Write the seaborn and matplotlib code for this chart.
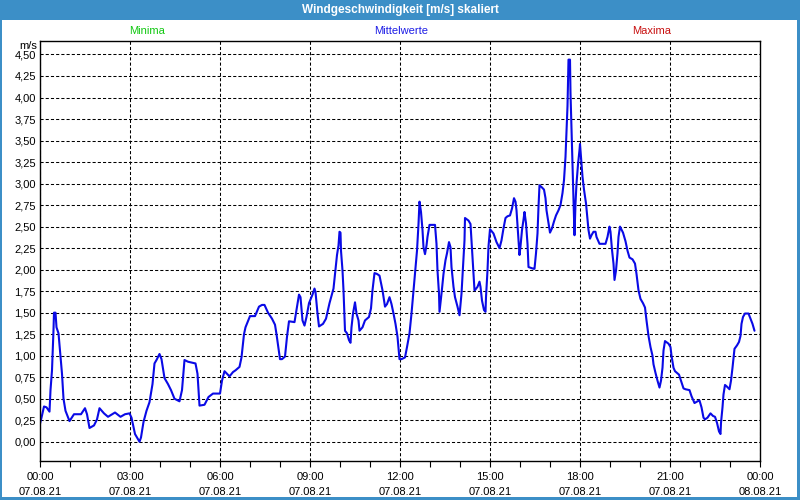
import matplotlib
matplotlib.use("Agg")
import matplotlib.pyplot as plt
import matplotlib.dates as mdates
from matplotlib.patches import Rectangle
from matplotlib.ticker import FuncFormatter, MultipleLocator
import seaborn as sns
import pandas as pd
import numpy as np

# ---------------- data ----------------
title = "Windgeschwindigkeit [m/s] skaliert"
series_labels = ["Minima", "Mittelwerte", "Maxima"]
series_colors = ["#12c812", "#1c1ce6", "#c81010"]
y_unit = "m/s"
day = "2021-08-07"

times = [
    "00:00", "00:03", "00:08", "00:13", "00:19", "00:21", "00:24", "00:27", "00:28", "00:31",
    "00:33", "00:37", "00:40", "00:44", "00:47", "00:51", "00:59", "01:08", "01:22", "01:30",
    "01:34", "01:39", "01:48", "01:54", "01:59", "02:08", "02:16", "02:30", "02:41", "02:50",
    "02:59", "03:03", "03:10", "03:19", "03:22", "03:27", "03:33", "03:39", "03:45", "03:49",
    "03:53", "03:59", "04:03", "04:09", "04:16", "04:22", "04:29", "04:39", "04:44", "04:49",
    "04:56", "05:11", "05:15", "05:19", "05:29", "05:37", "05:46", "06:00", "06:04", "06:09",
    "06:19", "06:26", "06:31", "06:39", "06:43", "06:48", "06:51", "07:00", "07:10", "07:18",
    "07:24", "07:29", "07:36", "07:44", "07:50", "07:53", "08:00", "08:04", "08:10", "08:14",
    "08:18", "08:29", "08:33", "08:38", "08:41", "08:45", "08:49", "08:53", "08:58", "09:05",
    "09:09", "09:11", "09:15", "09:18", "09:26", "09:32", "09:39", "09:47", "09:51", "09:54",
    "09:57", "09:59", "10:01", "10:02", "10:05", "10:07", "10:10", "10:14", "10:18", "10:21",
    "10:23", "10:26", "10:30", "10:33", "10:37", "10:39", "10:45", "10:50", "10:58", "11:02",
    "11:05", "11:09", "11:14", "11:19", "11:25", "11:30", "11:34", "11:39", "11:43", "11:47",
    "11:51", "11:55", "11:59", "12:03", "12:10", "12:14", "12:19", "12:23", "12:27", "12:31",
    "12:34", "12:37", "12:39", "12:42", "12:45", "12:47", "12:50", "12:53", "12:55", "12:59",
    "13:10", "13:13", "13:15", "13:18", "13:19", "13:23", "13:27", "13:31", "13:34", "13:38",
    "13:41", "13:43", "13:47", "13:50", "13:55", "13:59", "14:03", "14:06", "14:09", "14:10",
    "14:17", "14:21", "14:23", "14:26", "14:29", "14:31", "14:35", "14:39", "14:41", "14:44",
    "14:48", "14:51", "14:52", "14:55", "14:57", "15:00", "15:07", "15:13", "15:19", "15:23",
    "15:27", "15:31", "15:35", "15:40", "15:44", "15:48", "15:51", "15:53", "15:56", "15:59",
    "16:01", "16:04", "16:07", "16:09", "16:12", "16:15", "16:17", "16:27", "16:29", "16:32",
    "16:35", "16:37", "16:39", "16:43", "16:48", "16:51", "16:53", "16:57", "17:00", "17:04",
    "17:08", "17:12", "17:17", "17:21", "17:25", "17:28", "17:31", "17:33", "17:35", "17:37",
    "17:40", "17:41", "17:43", "17:45", "17:47", "17:49", "17:51", "17:53", "17:56", "17:59",
    "18:00", "18:03", "18:05", "18:08", "18:12", "18:15", "18:17", "18:20", "18:23", "18:27",
    "18:31", "18:33", "18:39", "18:51", "18:55", "18:59", "19:01", "19:04", "19:07", "19:09",
    "19:12", "19:15", "19:17", "19:20", "19:26", "19:31", "19:35", "19:39", "19:45", "19:50",
    "19:53", "19:57", "20:01", "20:06", "20:10", "20:13", "20:17", "20:21", "20:25", "20:27",
    "20:31", "20:35", "20:39", "20:42", "20:45", "20:47", "20:50", "20:57", "21:01", "21:03",
    "21:07", "21:10", "21:18", "21:22", "21:27", "21:31", "21:39", "21:43", "21:49", "21:55",
    "21:59", "22:03", "22:07", "22:10", "22:15", "22:21", "22:26", "22:30", "22:34", "22:38",
    "22:41", "22:42", "22:45", "22:47", "22:50", "22:54", "22:59", "23:02", "23:05", "23:09",
    "23:14", "23:18", "23:21", "23:23", "23:26", "23:30", "23:37", "23:41", "23:45", "23:49",
]

speeds = [
    0.21, 0.28, 0.41, 0.40, 0.35, 0.60, 0.83, 1.30, 1.50, 1.50,
    1.33, 1.26, 1.06, 0.79, 0.50, 0.36, 0.24, 0.32, 0.32, 0.39,
    0.32, 0.16, 0.19, 0.26, 0.39, 0.33, 0.29, 0.34, 0.29, 0.32,
    0.33, 0.28, 0.09, 0.00, 0.05, 0.23, 0.36, 0.46, 0.67, 0.91,
    0.95, 1.02, 0.96, 0.74, 0.67, 0.60, 0.50, 0.47, 0.60, 0.95,
    0.93, 0.91, 0.79, 0.42, 0.43, 0.52, 0.56, 0.56, 0.71, 0.82,
    0.76, 0.81, 0.83, 0.87, 0.98, 1.25, 1.33, 1.46, 1.46, 1.57,
    1.59, 1.59, 1.50, 1.43, 1.36, 1.25, 0.96, 0.96, 0.99, 1.22,
    1.40, 1.39, 1.53, 1.71, 1.68, 1.41, 1.35, 1.45, 1.61, 1.71,
    1.78, 1.74, 1.49, 1.34, 1.37, 1.43, 1.61, 1.78, 2.01, 2.17,
    2.28, 2.44, 2.43, 2.22, 1.99, 1.76, 1.29, 1.26, 1.18, 1.15,
    1.33, 1.49, 1.62, 1.49, 1.41, 1.29, 1.33, 1.41, 1.45, 1.55,
    1.76, 1.96, 1.95, 1.93, 1.76, 1.57, 1.60, 1.68, 1.60, 1.49,
    1.37, 1.22, 0.96, 0.96, 0.98, 1.10, 1.26, 1.49, 1.76, 2.03,
    2.22, 2.53, 2.79, 2.67, 2.46, 2.26, 2.18, 2.28, 2.38, 2.52,
    2.52, 2.30, 1.99, 1.72, 1.51, 1.72, 1.95, 2.11, 2.19, 2.32,
    2.26, 2.03, 1.80, 1.68, 1.57, 1.47, 1.72, 2.03, 2.34, 2.60,
    2.57, 2.53, 2.34, 2.07, 1.76, 1.77, 1.80, 1.86, 1.80, 1.64,
    1.53, 1.51, 1.68, 1.99, 2.27, 2.47, 2.42, 2.32, 2.25, 2.34,
    2.48, 2.60, 2.62, 2.63, 2.71, 2.83, 2.79, 2.69, 2.42, 2.17,
    2.27, 2.46, 2.58, 2.67, 2.54, 2.30, 2.03, 2.01, 2.01, 2.19,
    2.42, 2.73, 2.98, 2.96, 2.93, 2.83, 2.69, 2.54, 2.43, 2.48,
    2.56, 2.63, 2.69, 2.75, 2.89, 3.04, 3.31, 3.59, 3.90, 4.44,
    4.44, 4.05, 3.63, 3.24, 2.81, 2.40, 2.77, 3.00, 3.22, 3.39,
    3.46, 3.24, 3.08, 2.93, 2.77, 2.58, 2.46, 2.36, 2.40, 2.44,
    2.44, 2.38, 2.30, 2.30, 2.38, 2.50, 2.44, 2.23, 2.07, 1.88,
    1.99, 2.19, 2.38, 2.50, 2.43, 2.33, 2.22, 2.14, 2.12, 2.07,
    1.95, 1.76, 1.66, 1.61, 1.56, 1.41, 1.23, 1.10, 1.00, 0.90,
    0.80, 0.71, 0.63, 0.71, 0.86, 1.06, 1.17, 1.14, 1.10, 1.00,
    0.86, 0.82, 0.78, 0.71, 0.62, 0.61, 0.60, 0.53, 0.45, 0.47,
    0.48, 0.40, 0.28, 0.26, 0.28, 0.33, 0.30, 0.29, 0.22, 0.12,
    0.09, 0.22, 0.40, 0.55, 0.66, 0.64, 0.61, 0.71, 0.86, 1.08,
    1.12, 1.16, 1.23, 1.37, 1.45, 1.49, 1.49, 1.43, 1.37, 1.29,
]

y_ticks = np.arange(0, 4.51, 0.25)

df = pd.DataFrame({
    "time": pd.to_datetime([f"{day} {t}" for t in times]),
    "speed": speeds,
})

# ---------------- style ----------------
sns.set_style("white")
plt.rcParams["font.family"] = ["Liberation Sans", "DejaVu Sans"]

bar_blue = "#3c8fc7"

fig = plt.figure(figsize=(8, 5), dpi=100)
fig.patch.set_facecolor("white")

ax = fig.add_axes([40 / 800, 1 - 460.7 / 500, 720 / 800, 420 / 500])
ax.set_facecolor("white")

sns.lineplot(data=df, x="time", y="speed", ax=ax, color="#0a0ae6",
             linewidth=1.5, estimator=None, sort=False)

x0 = pd.Timestamp(f"{day} 00:00")
x1 = pd.Timestamp(f"{day} 00:00") + pd.Timedelta(hours=24)
ax.set_xlim(x0, x1)
ax.set_ylim(-0.22, 4.66)

ax.xaxis.set_major_locator(mdates.HourLocator(byhour=range(0, 24, 3)))
ax.xaxis.set_minor_locator(mdates.HourLocator())
ax.xaxis.set_major_formatter(mdates.DateFormatter("%H:%M\n%d.%m.%y"))
ax.set_yticks(y_ticks)
ax.yaxis.set_major_formatter(FuncFormatter(lambda v, p: f"{v:.2f}".replace(".", ",")))

ax.tick_params(axis="x", which="major", direction="out", length=4, width=0.8,
               colors="black", labelsize=8, pad=4, bottom=True)
ax.tick_params(axis="x", which="minor", direction="out", length=4, width=0.8,
               colors="black", bottom=True)
ax.tick_params(axis="y", which="major", length=0, labelsize=8, pad=3, colors="black", left=True)
for lbl in ax.get_xticklabels():
    lbl.set_linespacing(1.6)

ax.grid(True, which="major", axis="both", color="black", linewidth=0.75,
        linestyle=(0, (3, 2)))
for s in ax.spines.values():
    s.set_visible(True)
    s.set_color("black")
    s.set_linewidth(1.0)

ax.set_xlabel("")
ax.set_ylabel("")

# unit label
fig.text(37 / 800, 1 - 46 / 500, y_unit, ha="right", va="center", fontsize=8, color="black")

# series labels above plot
for lab, col, xc in zip(series_labels, series_colors, [147, 401, 652]):
    fig.text(xc / 800, 1 - 31 / 500, lab, ha="center", va="center", fontsize=8, color=col)

# title bar and window border
fig.patches.append(Rectangle((0, 1 - 20 / 500), 1, 20 / 500, transform=fig.transFigure,
                             facecolor=bar_blue, edgecolor="none", zorder=0))
fig.patches.append(Rectangle((0, 0), 2 / 800, 1, transform=fig.transFigure,
                             facecolor=bar_blue, edgecolor="none", zorder=0))
fig.patches.append(Rectangle((1 - 3 / 800, 0), 3 / 800, 1, transform=fig.transFigure,
                             facecolor=bar_blue, edgecolor="none", zorder=0))
fig.patches.append(Rectangle((0, 0), 1, 3 / 500, transform=fig.transFigure,
                             facecolor=bar_blue, edgecolor="none", zorder=0))
fig.text(0.5, 1 - 10 / 500, title, ha="center", va="center", fontsize=8.5,
         fontweight="bold", color="white")

fig.savefig("out.png", dpi=100, facecolor=fig.get_facecolor())
